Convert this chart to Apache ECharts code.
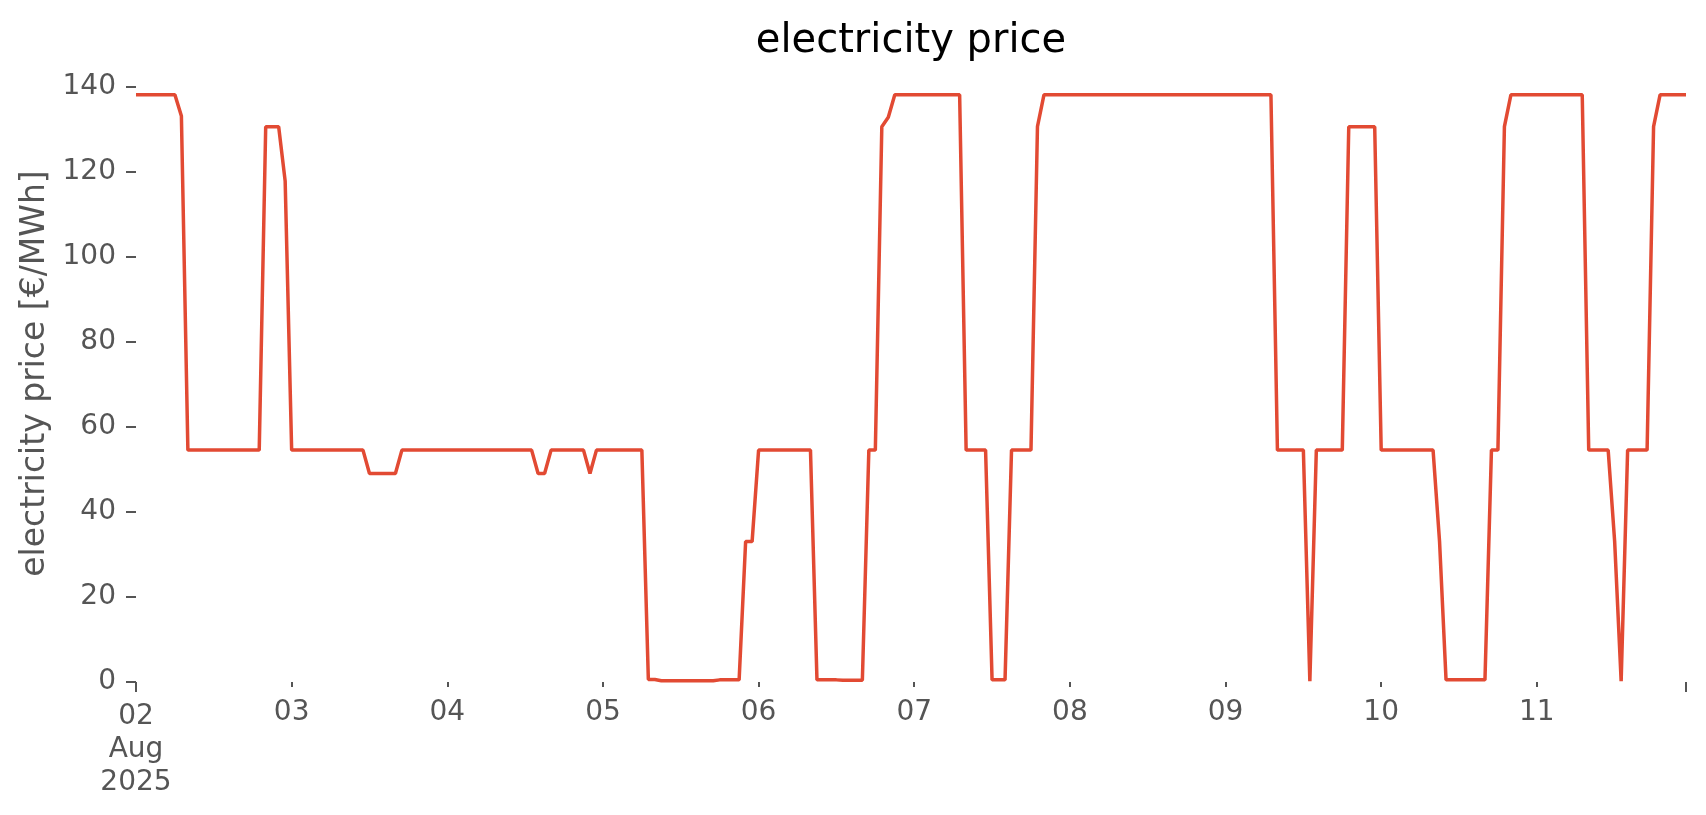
<!DOCTYPE html>
<html>
<head>
<meta charset="utf-8">
<script src="https://cdn.jsdelivr.net/npm/echarts@6/dist/echarts.min.js"></script>
<style>
html,body{margin:0;padding:0;background:#ffffff;}
#chart{width:1706px;height:815px;}
</style>
</head>
<body>
<div id="chart"></div>
<script>
// ---- data ----
const chartTitle = 'electricity price';
const yAxisName = 'electricity price [€/MWh]';
const startLabel = '02\nAug\n2025';
const dayLabels = ['03', '04', '05', '06', '07', '08', '09', '10', '11'];
const dayHours = [24, 48, 72, 96, 120, 144, 168, 192, 216];   // hours since 2025-08-02 00:00
const endHour = 239;                                             // 2025-08-11 23:00
const yTicks = [0, 20, 40, 60, 80, 100, 120, 140];

// hourly price [€/MWh], 2025-08-02 00:00 .. 2025-08-11 23:00
const priceAug02 = [138,138,138,138,138,138,138,133,54.5,54.5,54.5,54.5,54.5,54.5,54.5,54.5,54.5,54.5,54.5,54.5,130.5,130.5,130.5,117.7];
const priceAug03 = [54.5,54.5,54.5,54.5,54.5,54.5,54.5,54.5,54.5,54.5,54.5,54.5,49,49,49,49,49,54.5,54.5,54.5,54.5,54.5,54.5,54.5];
const priceAug04 = [54.5,54.5,54.5,54.5,54.5,54.5,54.5,54.5,54.5,54.5,54.5,54.5,54.5,54.5,49,49,54.5,54.5,54.5,54.5,54.5,54.5,49,54.5];
const priceAug05 = [54.5,54.5,54.5,54.5,54.5,54.5,54.5,0.6,0.6,0.3,0.3,0.3,0.3,0.3,0.3,0.3,0.3,0.3,0.5,0.5,0.5,0.5,33,33];
const priceAug06 = [54.5,54.5,54.5,54.5,54.5,54.5,54.5,54.5,54.5,0.5,0.5,0.5,0.5,0.4,0.4,0.4,0.4,54.5,54.5,130.5,132.7,138,138,138];
const priceAug07 = [138,138,138,138,138,138,138,138,54.5,54.5,54.5,54.5,0.5,0.5,0.5,54.5,54.5,54.5,54.5,130.5,138,138,138,138];
const priceAug08 = [138,138,138,138,138,138,138,138,138,138,138,138,138,138,138,138,138,138,138,138,138,138,138,138];
const priceAug09 = [138,138,138,138,138,138,138,138,54.5,54.5,54.5,54.5,54.5,0.2,54.5,54.5,54.5,54.5,54.5,130.5,130.5,130.5,130.5,130.5];
const priceAug10 = [54.5,54.5,54.5,54.5,54.5,54.5,54.5,54.5,54.5,33,0.5,0.5,0.5,0.5,0.5,0.5,0.5,54.5,54.5,130.5,138,138,138,138];
const priceAug11 = [138,138,138,138,138,138,138,138,54.5,54.5,54.5,54.5,33,0.2,54.5,54.5,54.5,54.5,130.5,138,138,138,138,138];

const price = [].concat(priceAug02, priceAug03, priceAug04, priceAug05, priceAug06,
                        priceAug07, priceAug08, priceAug09, priceAug10, priceAug11);
const seriesData = price.map((v, i) => [i, v]);

// ---- style ----
const FONT = 'DejaVu Sans';
const GREY = '#555555';
const LINE = '#E24A33';

const chart = echarts.init(document.getElementById('chart'), null, {renderer: 'canvas'});
const option = {
  animation: false,
  backgroundColor: '#ffffff',
  grid: {left: 136, right: 20, top: 65, bottom: 133},
  graphic: [{
    type: 'text',
    x: 911,
    y: 42,
    style: {
      text: chartTitle,
      fill: '#000000',
      fontSize: 40,
      fontFamily: FONT,
      align: 'center',
      verticalAlign: 'middle',
      textAlign: 'center',
      textVerticalAlign: 'middle'
    }
  }],
  xAxis: [
    {
      type: 'value', min: 0, max: endHour, position: 'bottom',
      axisLine: {show: false}, splitLine: {show: false},
      axisTick: {show: true, length: 5, customValues: dayHours, lineStyle: {color: GREY, width: 2}},
      axisLabel: {
        customValues: dayHours,
        formatter: v => dayLabels[dayHours.indexOf(v)] || '',
        margin: 17, color: GREY, fontSize: 28, fontFamily: FONT
      }
    },
    {
      type: 'value', min: 0, max: endHour, position: 'bottom',
      axisLine: {show: false}, splitLine: {show: false},
      axisTick: {show: true, length: 10, customValues: [0, endHour], lineStyle: {color: GREY, width: 2}},
      axisLabel: {
        customValues: [0],
        formatter: () => startLabel,
        margin: 18, color: GREY, fontSize: 28, lineHeight: 33, fontFamily: FONT
      }
    }
  ],
  yAxis: {
    type: 'value', min: 0, max: 145,
    axisLine: {show: false}, splitLine: {show: false},
    axisTick: {show: true, length: 10, customValues: yTicks, lineStyle: {color: GREY, width: 2}},
    axisLabel: {customValues: yTicks, margin: 20, color: GREY, fontSize: 28, fontFamily: FONT},
    name: yAxisName, nameLocation: 'middle', nameGap: 81,
    nameTextStyle: {color: GREY, fontSize: 33, fontFamily: FONT}
  },
  series: [{
    type: 'line',
    xAxisIndex: 0,
    data: seriesData,
    showSymbol: false,
    symbol: 'none',
    lineStyle: {color: LINE, width: 3.5},
    itemStyle: {color: LINE}
  }]
};
chart.setOption(option);
</script>
</body>
</html>
